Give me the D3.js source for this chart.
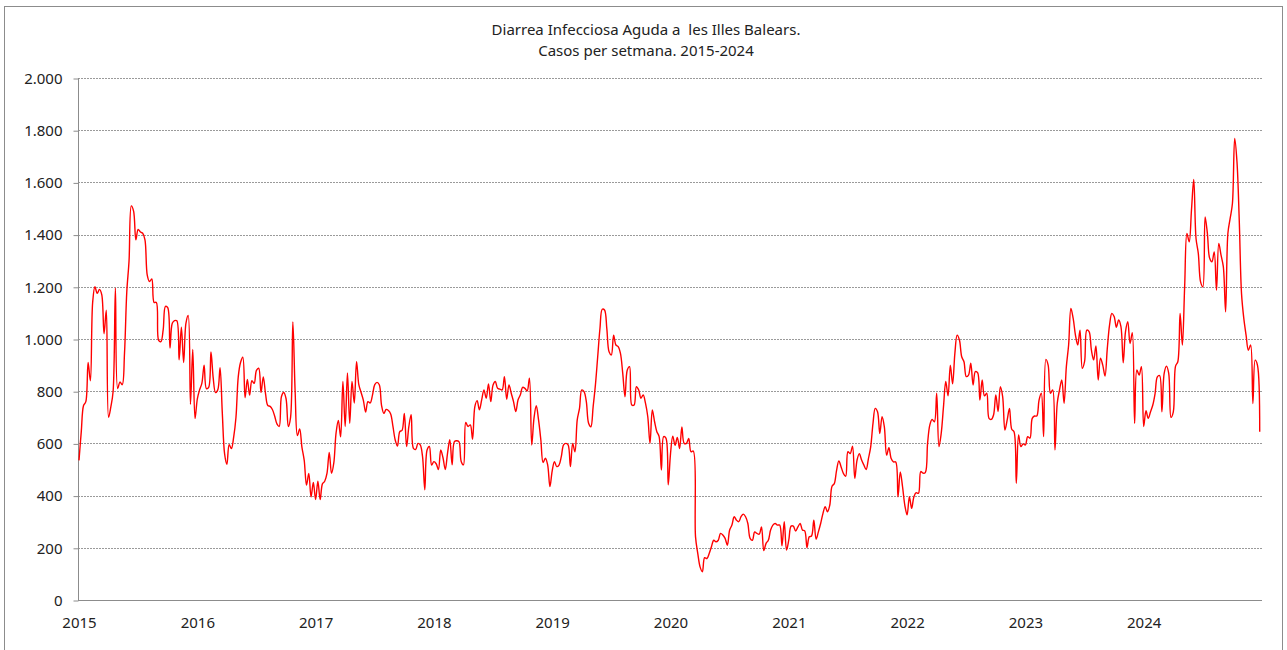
<!DOCTYPE html>
<html>
<head>
<meta charset="utf-8">
<script src="https://cdn.jsdelivr.net/npm/d3@7"></script>
<style>
  body { margin: 0; background: #fff; }
  svg text { font-family: "Noto Sans", "Open Sans", sans-serif; fill: #222; }
</style>
</head>
<body>
<svg id="chart" width="1287" height="650"></svg>
<script>
// weekly cases, one array per year (52 weeks)
var years = [2015, 2016, 2017, 2018, 2019, 2020, 2021, 2022, 2023, 2024];
var y2015 = [535, 645, 745, 760, 910, 840, 1140, 1200, 1175, 1190, 1170, 1020, 1110, 700, 740, 800, 1195, 810, 835, 825, 945, 1180, 1300, 1510, 1490, 1380, 1420, 1410, 1405, 1380, 1245, 1220, 1230, 1140, 1140, 995, 990, 1035, 1125, 1120, 965, 1060, 1070, 1070, 920, 1045, 910, 1060, 1090, 750, 960, 695];
var y2016 = [770, 805, 830, 900, 810, 815, 950, 850, 795, 805, 890, 715, 560, 520, 595, 580, 625, 700, 855, 910, 930, 775, 845, 785, 840, 830, 880, 888, 795, 855, 790, 745, 742, 730, 705, 675, 665, 780, 795, 772, 665, 700, 1065, 800, 630, 655, 585, 535, 440, 485, 395, 450];
var y2017 = [385, 455, 385, 445, 455, 485, 565, 485, 525, 640, 688, 625, 837, 665, 870, 677, 837, 755, 913, 825, 795, 765, 720, 760, 755, 785, 825, 834, 825, 745, 715, 730, 726, 713, 665, 613, 590, 645, 650, 715, 588, 665, 710, 581, 577, 600, 594, 550, 422, 575, 588, 517];
var y2018 = [530, 522, 500, 575, 545, 500, 563, 614, 518, 607, 610, 607, 531, 518, 680, 665, 671, 616, 741, 764, 729, 767, 805, 773, 828, 760, 824, 837, 811, 808, 805, 856, 769, 824, 792, 760, 722, 767, 786, 815, 811, 801, 850, 594, 697, 744, 690, 614, 527, 543, 518, 435];
var y2019 = [495, 530, 511, 517, 549, 594, 600, 594, 511, 600, 568, 690, 734, 805, 798, 760, 677, 664, 741, 824, 932, 1041, 1114, 1111, 1041, 951, 939, 1015, 977, 971, 945, 869, 779, 881, 894, 747, 747, 817, 805, 773, 786, 754, 703, 600, 728, 683, 645, 626, 498, 626, 620, 441];
var y2020 = [560, 628, 593, 623, 580, 663, 600, 600, 619, 568, 571, 242, 178, 127, 108, 162, 159, 178, 204, 229, 223, 229, 255, 249, 236, 210, 268, 287, 319, 306, 300, 319, 329, 319, 293, 236, 229, 261, 255, 252, 280, 189, 217, 229, 268, 287, 293, 287, 287, 208, 300, 191];
var y2021 = [230, 283, 283, 264, 280, 293, 268, 265, 201, 242, 245, 306, 233, 261, 293, 331, 357, 338, 363, 436, 446, 497, 533, 510, 485, 474, 568, 561, 589, 466, 536, 561, 536, 517, 500, 542, 587, 676, 734, 721, 638, 702, 663, 555, 584, 542, 529, 529, 395, 491, 434, 363];
var y2022 = [326, 396, 351, 396, 411, 409, 492, 486, 488, 600, 671, 692, 683, 792, 588, 639, 741, 837, 782, 900, 828, 945, 1015, 996, 932, 913, 856, 862, 907, 824, 875, 871, 766, 843, 782, 792, 696, 692, 709, 786, 722, 817, 779, 651, 690, 734, 654, 645, 447, 632, 588, 598];
var y2023 = [594, 626, 620, 696, 705, 705, 766, 792, 626, 922, 900, 792, 805, 575, 754, 805, 843, 754, 894, 977, 1117, 1079, 1015, 977, 1034, 888, 913, 1034, 1028, 958, 920, 973, 843, 926, 900, 858, 964, 1054, 1098, 1086, 1045, 1073, 1047, 909, 1028, 1066, 983, 1024, 677, 881, 862, 894];
var y2024 = [665, 725, 696, 721, 747, 791, 855, 860, 721, 868, 896, 868, 700, 720, 896, 913, 1098, 977, 1200, 1404, 1372, 1494, 1611, 1385, 1328, 1219, 1200, 1468, 1404, 1309, 1296, 1334, 1187, 1366, 1321, 1277, 1104, 1404, 1462, 1519, 1768, 1679, 1455, 1174, 1079, 1015, 957, 977, 753, 919, 900, 645];
var yTicks = [0, 200, 400, 600, 800, 1000, 1200, 1400, 1600, 1800, 2000];
var titleLines = ["Diarrea Infecciosa Aguda a  les Illes Balears.", "Casos per setmana. 2015-2024"];

var series = [y2015, y2016, y2017, y2018, y2019, y2020, y2021, y2022, y2023, y2024];
var points = [];
series.forEach(function(arr, i){
    arr.forEach(function(v, w){
        points.push({t: years[i] + w / arr.length, v: v});
    });
});

var svg = d3.select('svg#chart');
var plotLeft = 78, plotRight = 1262, plotTop = 78, plotBottom = 600;

var x = d3.scaleLinear().domain([2015, 2025]).range([plotLeft + 1, plotRight]);
var y = d3.scaleLinear().domain([0, 2000]).range([plotBottom, plotTop]);

var es = d3.formatLocale({decimal: ",", thousands: ".", grouping: [3], currency: ["", "€"]});

// chart frame
svg.append('rect')
    .attr('x', 4.5).attr('y', 6.5).attr('width', 1278).attr('height', 660)
    .attr('fill', 'none').attr('stroke', '#8c8c8c').attr('stroke-width', 1);

// title
svg.append('text')
    .attr('x', 646).attr('y', 35)
    .attr('text-anchor', 'middle')
    .style('font-size', '15px')
    .style('white-space', 'pre')
    .selectAll('tspan').data(titleLines).enter().append('tspan')
    .attr('x', 646).attr('dy', function(d, i){ return i ? 21 : 0; })
    .text(function(d){ return d; });

// gridlines
svg.append('g').selectAll('line').data(yTicks.slice(1)).enter().append('line')
    .attr('x1', plotLeft).attr('x2', plotRight)
    .attr('y1', function(d){ return Math.round(y(d)) + 0.5; })
    .attr('y2', function(d){ return Math.round(y(d)) + 0.5; })
    .attr('stroke', '#9a9a9a').attr('stroke-width', 1)
    .attr('stroke-dasharray', '2 1');

// y axis
var yAxis = svg.append('g')
    .attr('transform', 'translate(' + (plotLeft + 0.5) + ',0.5)')
    .call(d3.axisLeft(y).tickValues(yTicks).tickSize(5).tickSizeOuter(0).tickPadding(11)
        .tickFormat(es.format(',')));
yAxis.select('path').remove();
yAxis.selectAll('line').attr('stroke', '#8c8c8c');
yAxis.selectAll('text').style('font-size', '15px').style('fill', '#222');
svg.append('line')
    .attr('x1', plotLeft + 0.5).attr('x2', plotLeft + 0.5)
    .attr('y1', plotTop).attr('y2', plotBottom)
    .attr('stroke', '#8c8c8c');

// x axis
var xAxis = svg.append('g')
    .attr('transform', 'translate(0,' + (plotBottom + 0.5) + ')')
    .call(d3.axisBottom(x).tickValues(years).tickSize(0).tickSizeOuter(0).tickPadding(17)
        .tickFormat(d3.format('d')));
xAxis.select('path').attr('stroke', '#8c8c8c').attr('d', 'M' + plotLeft + ',0H' + plotRight);
xAxis.selectAll('text').style('font-size', '15px').style('fill', '#222');

// the series
var line = d3.line()
    .x(function(d){ return x(d.t); })
    .y(function(d){ return y(d.v); })
    .curve(d3.curveCatmullRom.alpha(0.5));

svg.append('path')
    .datum(points)
    .attr('d', line)
    .attr('fill', 'none')
    .attr('stroke', '#ff0000')
    .attr('stroke-width', 1.4);
</script>
</body>
</html>
